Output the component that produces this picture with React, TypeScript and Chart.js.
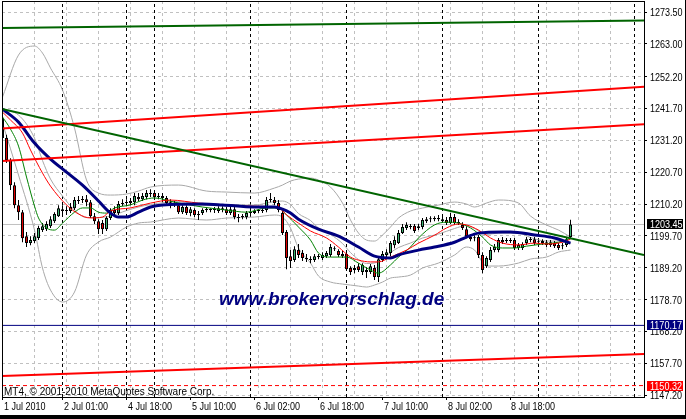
import React, { useEffect, useRef } from 'react';
import { Chart, registerables } from 'chart.js';
Chart.register(...registerables);

// ---- price bars (H1), index 0 = first visible bar ----
const OPEN = [1238.5,1232.0,1224.7,1216.4,1209.8,1207.5,1199.6,1197.3,1198.0,1199.0,
 1201.6,1201.9,1202.9,1204.5,1206.2,1208.5,1207.9,1207.9,1208.8,1211.2,
 1211.5,1211.8,1210.8,1206.2,1204.5,1203.9,1201.9,1205.6,1208.2,1207.2,
 1210.2,1210.5,1210.5,1210.8,1212.5,1211.8,1212.5,1213.5,1213.8,1212.5,
 1212.8,1212.2,1210.8,1209.8,1209.8,1207.5,1209.2,1207.2,1208.2,1206.6,
 1207.2,1208.2,1208.2,1208.2,1207.9,1208.8,1208.5,1207.2,1208.5,1205.9,
 1205.9,1205.9,1207.2,1207.2,1207.9,1207.9,1208.2,1211.5,1211.5,1210.5,
 1207.2,1201.0,1193.0,1191.7,1195.0,1194.0,1192.4,1192.0,1191.7,1192.7,
 1192.4,1193.0,1193.4,1195.3,1194.7,1193.7,1193.7,1189.1,1188.4,1189.7,
 1187.8,1188.4,1187.8,1189.1,1186.1,1191.7,1193.4,1194.0,1196.6,1197.3,
 1200.6,1202.3,1202.6,1203.0,1202.3,1202.6,1204.5,1205.2,1205.2,1205.6,
 1205.2,1204.9,1203.9,1205.9,1204.2,1203.3,1201.9,1199.3,1198.9,1199.3,
 1193.4,1189.7,1191.7,1195.0,1195.0,1198.3,1198.0,1198.0,1198.3,1195.7,
 1195.7,1197.3,1198.6,1198.6,1197.6,1198.0,1197.6,1196.7,1197.3,1196.7,
 1196.3,1196.7,1199.3];
const HIGH = [1241.8,1233.0,1225.3,1217.4,1211.5,1208.2,1201.0,1199.6,1200.6,1203.0,
 1203.9,1204.5,1206.2,1207.5,1209.8,1209.8,1209.5,1210.5,1212.5,1212.8,
 1212.8,1213.2,1211.5,1207.2,1205.2,1204.9,1206.2,1208.8,1209.5,1211.2,
 1211.8,1211.8,1212.2,1213.8,1213.8,1213.8,1214.8,1215.1,1214.4,1213.8,
 1213.8,1212.8,1211.8,1211.2,1210.5,1209.8,1209.8,1209.2,1208.8,1207.9,
 1208.8,1209.2,1208.8,1209.2,1209.5,1209.5,1209.2,1209.2,1209.5,1206.9,
 1206.9,1207.9,1207.9,1208.5,1208.5,1208.8,1212.5,1213.8,1212.5,1211.5,
 1207.9,1201.6,1195.0,1196.3,1197.0,1195.0,1193.7,1193.0,1193.7,1193.7,
 1194.3,1194.7,1197.0,1196.3,1195.3,1194.7,1194.7,1189.7,1190.1,1190.7,
 1190.7,1189.4,1190.4,1190.1,1193.0,1194.7,1195.3,1198.0,1199.6,1201.6,
 1203.6,1204.2,1203.6,1203.6,1203.6,1205.6,1205.9,1206.2,1206.2,1206.6,
 1206.2,1205.9,1207.2,1206.9,1205.2,1204.2,1202.9,1200.3,1199.9,1200.0,
 1194.3,1193.0,1196.0,1197.0,1199.0,1199.3,1199.0,1199.0,1199.0,1197.3,
 1197.6,1199.3,1199.3,1199.3,1198.3,1198.6,1198.3,1198.3,1198.0,1197.3,
 1197.3,1199.3,1205.0];
const LOW = [1230.6,1223.7,1214.8,1208.8,1204.9,1197.6,1196.0,1196.6,1197.3,1198.3,
 1201.0,1201.3,1202.3,1203.9,1205.9,1206.9,1206.6,1207.2,1208.2,1210.2,
 1210.5,1209.5,1205.6,1203.6,1200.3,1200.3,1201.3,1204.9,1206.2,1206.6,
 1209.5,1209.5,1209.8,1209.8,1211.2,1211.2,1211.8,1212.5,1211.5,1211.8,
 1210.8,1209.8,1208.8,1209.2,1206.9,1206.9,1206.6,1206.2,1205.9,1204.9,
 1206.6,1207.5,1207.5,1207.2,1207.2,1207.5,1206.6,1206.6,1205.2,1204.2,
 1205.2,1205.2,1206.6,1206.9,1207.2,1207.2,1207.5,1210.8,1209.8,1207.5,
 1200.0,1188.7,1189.1,1191.1,1192.4,1191.4,1191.1,1190.7,1191.1,1192.0,
 1191.7,1192.4,1192.7,1194.7,1192.7,1192.4,1188.1,1186.8,1187.4,1187.8,
 1186.8,1185.8,1187.1,1185.1,1184.5,1191.1,1192.7,1193.0,1195.6,1197.0,
 1200.3,1201.6,1201.9,1200.6,1201.6,1201.9,1203.9,1204.2,1204.5,1204.5,
 1203.9,1203.3,1203.6,1203.3,1203.3,1201.6,1198.9,1197.9,1197.9,1192.4,
 1187.4,1189.1,1191.1,1194.3,1194.3,1197.0,1197.3,1197.3,1195.0,1195.0,
 1195.0,1196.7,1197.6,1196.7,1196.9,1196.7,1196.0,1196.0,1195.7,1195.0,
 1195.3,1196.0,1199.0];
const CLOSE = [1232.0,1224.7,1216.4,1209.8,1207.5,1198.9,1197.3,1198.3,1199.6,1202.3,
 1202.9,1203.6,1205.2,1206.9,1208.8,1207.9,1208.2,1209.2,1211.5,1211.5,
 1211.8,1210.8,1206.2,1204.5,1201.9,1201.9,1205.6,1208.2,1207.2,1210.2,
 1210.5,1210.5,1211.2,1212.8,1211.8,1212.8,1213.8,1213.8,1212.5,1212.8,
 1212.2,1210.5,1209.8,1210.2,1207.5,1209.2,1207.2,1208.5,1206.6,1206.9,
 1208.2,1208.5,1208.2,1208.2,1208.8,1208.2,1207.2,1208.5,1205.9,1205.6,
 1206.2,1207.2,1207.2,1207.9,1207.9,1208.2,1211.5,1211.5,1210.5,1208.2,
 1200.6,1192.4,1191.4,1195.3,1193.4,1192.4,1192.0,1191.7,1193.0,1192.7,
 1193.4,1194.0,1196.0,1195.3,1193.4,1193.0,1188.7,1187.8,1189.1,1188.4,
 1190.1,1187.8,1189.7,1186.1,1192.0,1193.7,1194.3,1197.3,1198.3,1200.6,
 1202.6,1203.3,1202.6,1201.3,1202.9,1204.9,1205.2,1205.2,1205.6,1205.2,
 1204.5,1203.9,1205.9,1203.9,1203.9,1202.3,1199.6,1198.6,1198.9,1193.4,
 1188.4,1192.4,1195.0,1196.0,1198.3,1197.6,1198.0,1198.0,1195.7,1196.7,
 1197.0,1198.6,1198.3,1197.3,1197.6,1197.3,1196.7,1197.6,1196.3,1195.7,
 1196.3,1198.6,1203.45];

// ---- moving averages (sampled at bar indices) ----
const BLUE_IDX = [0,4,8,12,16,20,24,27,29,31,34,37,40,50,55,63,68,70,72,74,79,84,89,93,97,99,104,108,113,116,119,125,127,133,138,142];
const BLUE_VAL = [1241.5,1237.2,1230.3,1225.0,1220.7,1216.4,1211.2,1207.2,1205.9,1205.9,1207.5,1209.2,1209.9,1210.2,1209.9,1209.2,1209.2,1208.5,1207.2,1205.2,1201.9,1199.6,1196.0,1193.0,1192.4,1193.4,1195.0,1196.0,1197.6,1199.3,1200.6,1201.0,1201.0,1200.0,1199.0,1197.3];
const RED_IDX = [0,2,5,7,10,12,16,19,22,25,27,32,37,42,49,56,62,69,71,74,77,81,84,87,89,92,94,97,101,104,108,111,114,116,119,122,125,129,133,136,140,142];
const RED_VAL = [1240.5,1237.9,1233.6,1228.0,1220.4,1216.1,1209.9,1206.9,1205.6,1205.9,1207.9,1208.9,1210.5,1211.5,1210.5,1209.9,1209.5,1208.9,1206.6,1203.9,1201.3,1199.0,1196.0,1192.7,1191.7,1191.1,1191.1,1192.7,1195.0,1197.3,1199.9,1202.3,1203.6,1203.3,1201.6,1199.0,1197.3,1196.7,1197.3,1197.0,1197.6,1198.6];
const GREEN_IDX = [0,2,4,6,8,9,11,13,15,18,20,22,24,26,28,32,35,38,43,50,56,61,66,69,71,74,77,79,82,86,89,92,94,97,99,102,104,108,111,114,117,120,122,125,128,131,135,139,142];
const GREEN_VAL = [1238.9,1234.9,1229.3,1219.1,1209.5,1205.6,1202.3,1201.6,1203.9,1207.5,1208.9,1208.9,1207.5,1207.2,1208.9,1209.9,1211.5,1212.2,1210.8,1209.2,1208.2,1207.5,1208.9,1208.9,1206.6,1202.6,1198.3,1194.0,1192.7,1192.7,1190.7,1188.4,1187.4,1190.1,1192.7,1196.0,1199.0,1203.3,1204.2,1203.9,1202.3,1199.3,1196.7,1195.7,1195.7,1196.3,1197.0,1197.6,1198.9];

// ---- Bollinger bands ----
const BB_IDX = [0,4,8,10,12,15,18,21,24,27,31,34,37,44,51,56,63,68,70,72,74,77,79,82,85,87,89,91,93,95,97,99,102,105,109,113,116,118,121,124,129,132,136,139,142];
const BB_UPPER = [1245.47,1259.32,1262.29,1259.98,1255.04,1247.78,1235.25,1218.10,1213.81,1213.15,1213.48,1214.47,1215.79,1216.45,1214.47,1214.14,1213.81,1215.46,1216.45,1217.77,1218.43,1218.76,1218.10,1215.79,1210.52,1204.91,1200.62,1198.31,1197.98,1199.96,1202.60,1205.57,1207.88,1208.87,1209.86,1210.85,1210.19,1209.20,1210.52,1211.51,1210.52,1206.23,1203.26,1201.61,1199.30];
const BB_MID = [1241.19,1239.54,1231.95,1224.53,1218.43,1212.82,1208.21,1205.73,1205.73,1206.23,1208.04,1209.20,1210.02,1211.01,1209.69,1209.86,1209.86,1211.01,1211.18,1210.02,1207.05,1204.75,1202.27,1200.13,1197.16,1194.19,1191.88,1190.57,1190.73,1192.21,1194.19,1195.84,1197.33,1198.97,1200.29,1202.11,1203.10,1202.11,1200.13,1200.62,1200.62,1199.14,1197.98,1197.98,1197.16];
const BB_LOWER = [1236.90,1219.75,1201.61,1189.08,1181.83,1177.87,1181.17,1193.37,1197.66,1199.30,1202.60,1203.92,1204.25,1205.57,1204.91,1205.57,1205.90,1206.56,1205.90,1202.27,1195.68,1190.73,1186.44,1184.46,1183.80,1183.47,1183.14,1182.81,1183.47,1184.46,1185.78,1186.11,1186.77,1189.08,1190.73,1193.37,1196.01,1195.02,1189.74,1189.74,1190.73,1192.05,1192.71,1194.36,1195.02];

// ---- trend lines (price at left edge / right edge) ----
const TREND_START = [1268.23, 1241.51, 1235.08, 1224.37, 1153.47];
const TREND_END = [1270.70, 1193.37, 1248.87, 1236.53, 1160.72];
const TREND_COLOR = ['#006400', '#006400', '#ff0000', '#ff0000', '#ff0000'];

// ---- horizontal levels ----
const LEVELS = [1203.45, 1170.17, 1150.32];
const LEVEL_COLOR = ['#c0c0c0', '#000080', '#ff0000'];
const LEVEL_BG = ['#000000', '#000080', '#ff0000'];

// ---- period separators (bar index of first bar of each day) ----
const SEP_IDX = [15, 31, 38, 62, 86, 110, 134, 158];

// ---- axes ----
const Y_TICKS = [1273.5, 1263.0, 1252.2, 1241.7, 1231.2, 1220.7, 1210.2, 1199.7, 1189.2, 1178.7, 1168.2, 1157.7, 1147.2];
const X_TICK_IDX = [0, 15, 31, 47, 63, 79, 95, 111, 127];
const X_TICK_LABELS = ['1 Jul 2010', '2 Jul 01:00', '4 Jul 18:00', '5 Jul 10:00', '6 Jul 02:00', '6 Jul 18:00', '7 Jul 10:00', '8 Jul 02:00', '8 Jul 18:00'];
const GRID_IDX = [8, 16, 24, 32, 40, 48, 56, 64, 72, 80, 88, 96, 104, 112, 120, 128, 136, 144, 152];

const X_MIN = -0.125;
const X_MAX = 160.375;
const Y_MIN = 1146.55;
const Y_MAX = 1277.15;

const AXIS_FONT = '11px "Liberation Sans", Arial, sans-serif';
const NARROW = 0.82;
const WATERMARK = 'www.brokervorschlag.de';
const COPYRIGHT = 'MT4, \u00a9 2001-2010 MetaQuotes Software Corp.';

function pts(idx: number[], val: number[]) {
  return idx.map((x, k) => ({ x, y: val[k] }));
}

function narrowText(ctx: CanvasRenderingContext2D, text: string, x: number, y: number) {
  ctx.save();
  ctx.translate(x, y);
  ctx.scale(NARROW, 1);
  ctx.fillText(text, 0, 0);
  ctx.restore();
}

export default function App() {
  const ref = useRef<HTMLCanvasElement>(null);
  useEffect(() => {
    document.body.style.margin = '0';
    const canvas = ref.current!;
    const bars = CLOSE.map((_, i) => i);

    const lineDs = (data: any[], color: string, width: number, order: number, extra: any = {}) => ({
      type: 'line',
      data,
      borderColor: color,
      borderWidth: width,
      pointRadius: 0,
      fill: false,
      order,
      ...extra,
    });

    const datasets: any[] = [];
    TREND_START.forEach((s, k) => {
      datasets.push(lineDs([{ x: X_MIN, y: s }, { x: X_MAX, y: TREND_END[k] }], TREND_COLOR[k], 2, 1));
    });
    datasets.push(lineDs(pts(BLUE_IDX, BLUE_VAL), '#000080', 3, 2, { cubicInterpolationMode: 'monotone' }));
    datasets.push(lineDs(pts(RED_IDX, RED_VAL), '#ff0000', 1, 3, { cubicInterpolationMode: 'monotone' }));
    datasets.push(lineDs(pts(GREEN_IDX, GREEN_VAL), '#008000', 1, 4, { cubicInterpolationMode: 'monotone' }));
    datasets.push({
      type: 'bar',
      data: bars.map((i) => ({ x: i, y: [OPEN[i], CLOSE[i]] })),
      backgroundColor: bars.map((i) => (CLOSE[i] >= OPEN[i] ? '#3cb371' : '#e00000')),
      borderColor: '#000000',
      borderWidth: 1,
      borderSkipped: false,
      barThickness: 3,
      minBarLength: 1,
      grouped: false,
      inflateAmount: 0,
      order: 5,
    });
    datasets.push({
      type: 'bar',
      data: bars.map((i) => ({ x: i, y: [LOW[i], HIGH[i]] })),
      backgroundColor: '#000000',
      borderWidth: 0,
      barThickness: 1,
      grouped: false,
      inflateAmount: 0,
      order: 6,
    });
    const bbOpts = { cubicInterpolationMode: 'monotone' };
    datasets.push(lineDs(pts(BB_IDX, BB_UPPER), '#a8a8a8', 1, 7, bbOpts));
    datasets.push(lineDs(pts(BB_IDX, BB_MID), '#a8a8a8', 1, 7, bbOpts));
    datasets.push(lineDs(pts(BB_IDX, BB_LOWER), '#a8a8a8', 1, 7, bbOpts));
    LEVELS.forEach((v, k) => {
      datasets.push(lineDs([{ x: X_MIN, y: v }, { x: X_MAX, y: v }], LEVEL_COLOR[k], 1, 8, k === 2 ? { borderDash: [4, 3] } : {}));
    });
    SEP_IDX.forEach((s) => {
      datasets.push(lineDs([{ x: s, y: Y_MIN }, { x: s, y: Y_MAX }], '#000000', 1, 9, { borderDash: [3, 3] }));
    });

    const zeroPad = (s: any) => {
      s.paddingTop = 0; s.paddingBottom = 0; s.paddingLeft = 0; s.paddingRight = 0;
    };

    const overlay = {
      id: 'overlay',
      afterDatasetsDraw(chart: any) {
        const { ctx } = chart;
        ctx.save();
        ctx.fillStyle = '#000080';
        ctx.font = 'italic bold 19px "Liberation Sans", Arial, sans-serif';
        ctx.textBaseline = 'alphabetic';
        ctx.textAlign = 'left';
        ctx.fillText(WATERMARK, 219, 305);
        ctx.fillStyle = '#000000';
        ctx.font = '10px "Liberation Sans", Arial, sans-serif';
        ctx.fillText(COPYRIGHT, 4, 395);
        ctx.restore();
      },
      afterDraw(chart: any) {
        const { ctx, chartArea: a, scales } = chart;
        ctx.save();
        ctx.strokeStyle = '#000000';
        ctx.lineWidth = 1;
        ctx.setLineDash([]);
        ctx.strokeRect(a.left + 0.5, a.top + 0.5, a.right - a.left, a.bottom - a.top);
        ctx.font = AXIS_FONT;
        ctx.textAlign = 'left';
        ctx.textBaseline = 'alphabetic';
        ctx.fillStyle = '#000000';
        // y tick labels
        const ys = scales.y;
        ys.ticks.forEach((t: any) => {
          const py = Math.round(ys.getPixelForValue(t.value));
          narrowText(ctx, Number(t.value).toFixed(2), a.right + 6, py + 4);
        });
        // x tick labels
        const xs = scales.x;
        xs.ticks.forEach((t: any) => {
          const k = X_TICK_IDX.indexOf(Number(t.value));
          if (k < 0) return;
          const px = xs.getPixelForValue(t.value);
          narrowText(ctx, X_TICK_LABELS[k], Math.round(px) + 1, 410);
        });
        // price level boxes
        LEVELS.forEach((v, k) => {
          const py = Math.round(ys.getPixelForValue(v));
          ctx.fillStyle = LEVEL_BG[k];
          ctx.fillRect(a.right + 3, py - 5, 36, 10);
          ctx.fillStyle = '#ffffff';
          narrowText(ctx, v.toFixed(2), a.right + 6, py + 4);
        });
        ctx.fillStyle = '#000000';
        ctx.fillRect(685, 0, 1, 419);
        ctx.fillRect(0, 415, 686, 4);
        ctx.restore();
      },
    };

    const chart = new Chart(canvas, {
      type: 'line',
      data: { datasets },
      options: {
        responsive: false,
        animation: false,
        devicePixelRatio: 1,
        events: [],
        layout: { padding: { left: 2, top: 1, right: 0, bottom: 0 } },
        plugins: { legend: { display: false }, tooltip: { enabled: false } },
        scales: {
          x: {
            type: 'linear',
            position: 'bottom',
            min: X_MIN,
            max: X_MAX,
            offset: false,
            afterBuildTicks: (s: any) => { s.ticks = X_TICK_IDX.map((v) => ({ value: v })); },
            afterFit: (s: any) => { s.height = 22; zeroPad(s); },
            ticks: { display: false, autoSkip: false },
            grid: { drawOnChartArea: false, drawTicks: true, tickLength: 3, tickColor: '#000000', offset: false },
            border: { display: true, color: '#000000', width: 1 },
          },
          xg: {
            type: 'linear',
            position: 'top',
            min: X_MIN,
            max: X_MAX,
            offset: false,
            afterBuildTicks: (s: any) => { s.ticks = GRID_IDX.map((v) => ({ value: v })); },
            afterFit: (s: any) => { s.height = 0; zeroPad(s); },
            ticks: { display: false },
            grid: { color: '#c0c0c0', drawTicks: false, offset: false },
            border: { display: false, dash: [3, 3] },
          },
          y: {
            type: 'linear',
            position: 'right',
            min: Y_MIN,
            max: Y_MAX,
            afterBuildTicks: (s: any) => { s.ticks = Y_TICKS.map((v) => ({ value: v })); },
            afterFit: (s: any) => { s.width = 42; zeroPad(s); },
            ticks: { display: false, autoSkip: false },
            grid: { color: '#c0c0c0', drawTicks: true, tickLength: 3, tickColor: '#000000', tickBorderDash: [], offset: false },
            border: { display: true, color: '#000000', width: 1, dash: [3, 3] },
          },
        },
      } as any,
      plugins: [overlay],
    } as any);
    return () => chart.destroy();
  }, []);
  return <canvas ref={ref} width={686} height={419} style={{ display: 'block' }} />;
}
